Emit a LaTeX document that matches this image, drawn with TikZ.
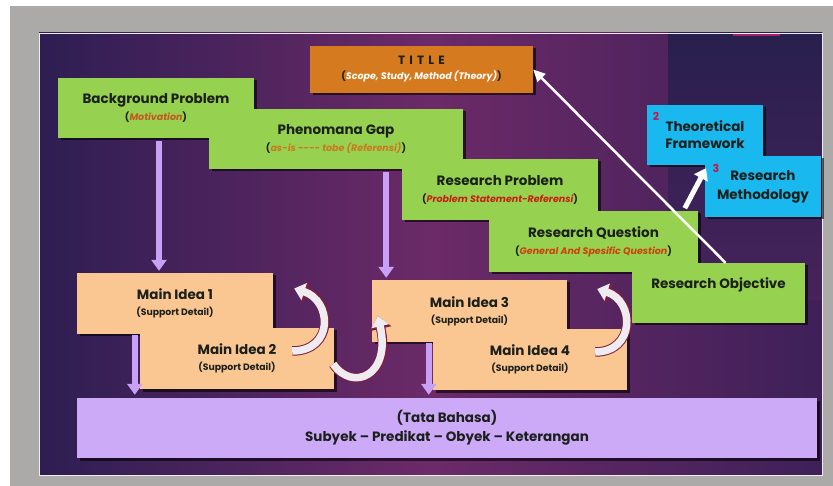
\documentclass[tikz,border=0pt]{standalone}
\usepackage{fontspec}
\setmainfont{Poppins}
\usetikzlibrary{arrows.meta,shadows,calc}
\definecolor{outergray}{RGB}{172,170,168}
\definecolor{bgleft}{RGB}{45,30,82}
\definecolor{bgmid}{RGB}{108,42,104}
\definecolor{bgright}{RGB}{62,32,88}
\definecolor{bgtopright}{RGB}{40,32,78}
\definecolor{boxgreen}{RGB}{150,210,80}
\definecolor{boxorange}{RGB}{214,122,32}
\definecolor{boxblue}{RGB}{25,185,240}
\definecolor{boxpeach}{RGB}{250,198,145}
\definecolor{boxlav}{RGB}{204,170,248}
\definecolor{arrowlav}{RGB}{200,160,245}
\definecolor{inktext}{RGB}{28,32,28}
\definecolor{motcol}{RGB}{200,85,30}
\definecolor{gapcol}{RGB}{205,120,30}
\definecolor{probcol}{RGB}{200,30,20}
\definecolor{quescol}{RGB}{205,65,15}
\definecolor{numcol}{RGB}{190,25,80}
\definecolor{curvefill}{RGB}{238,236,240}
\definecolor{curveedge}{RGB}{130,30,60}
\definecolor{topbar}{RGB}{165,35,95}
\newcommand\mymainf{\bfseries\fontsize{13.5}{17}\selectfont}
\newcommand\mysubf{\bfseries\fontsize{9.5}{12}\selectfont}
\newcommand\mysupf{\bfseries\fontsize{9.3}{11}\selectfont}
\newcommand\subtxt[2]{{\mysubf(\textcolor{#1}{\itshape #2})}}
\newcommand\curvedarrow[4]{%
  \draw[curveout] #1 .. controls #2 and #3 .. #4;
  \draw[curvein] #1 .. controls #2 and #3 .. #4;}
\begin{document}
\begin{tikzpicture}[x=1pt,y=-1pt,
  box/.style={inner sep=0pt, align=center, text=inktext, font=\mymainf,
    drop shadow={shadow xshift=2.5pt, shadow yshift=-2.5pt, opacity=0.6, fill=black}},
  gbox/.style={box, fill=boxgreen},
  pbox/.style={box, fill=boxpeach},
  bbox/.style={box, fill=boxblue},
  purplearrow/.style={draw=arrowlav, line width=6pt, -{Triangle[width=15pt,length=11pt]}},
  whitearrow/.style={draw=white, line width=2.5pt, -{Triangle[width=11pt,length=12pt]}},
  thickwhite/.style={draw=white, line width=5pt, -{Triangle[width=15pt,length=11pt]}},
  curveout/.style={draw=curveedge, line width=9.5pt, -{Triangle[width=21pt,length=13pt]}},
  curvein/.style={draw=curvefill, line width=7.5pt, -{Triangle[width=17.5pt,length=10.5pt]}},
  numlabel/.style={font=\bfseries\fontsize{11}{12}\selectfont, text=numcol, inner sep=0pt}
]
\useasboundingbox (0,0) rectangle (833,486);
% frame and slide background
\fill[white] (0,0) rectangle (833,486);
\fill[outergray] (10,6) rectangle (833,486);
\shade[left color=bgleft, right color=bgright, middle color=bgmid] (39,33) rectangle (822,475);
\shade[top color=bgtopright, bottom color=bgright!80!bgmid] (668,33) rectangle (822,300);
\fill[topbar] (733,33) rectangle (780,36);
\draw[white!85!gray, line width=0.8pt] (39,33) rectangle (822,475);

% green staircase
\node[gbox, minimum width=196pt, minimum height=60pt] (bg) at (156,108)
  {Background Problem\\\subtxt{motcol}{Motivation}};
\node[gbox, minimum width=254pt, minimum height=60pt] (pg) at (336,139)
  {Phenomana Gap\\\subtxt{gapcol}{as-is -{}-{}-{}- tobe (Referensi)}};
\node[gbox, minimum width=196pt, minimum height=61pt] (rp) at (500,189.5)
  {Research Problem\\\subtxt{probcol}{Problem Statement-Referensi}};
\node[gbox, minimum width=209pt, minimum height=61pt] (rq) at (593.5,241.5)
  {Research Question\\\subtxt{quescol}{General And Spesific Question}};
\node[gbox, minimum width=173pt, minimum height=60pt] (ro) at (718.5,293)
  {Research Objective\\{\mysubf\phantom{(X)}}};

% title
\node[box, fill=boxorange, minimum width=223pt, minimum height=47pt] (title) at (421.5,69.5)
  {{\fontsize{12}{16}\selectfont\addfontfeatures{LetterSpace=35}TITLE}\\[-2pt]{\mysubf(\textcolor{white}{\itshape Scope, Study, Method (Theory)})}};

% blue boxes
\node[bbox, minimum width=116pt, minimum height=60pt] (tf) at (705,135) {Theoretical\\Framework};
\node[bbox, minimum width=116pt, minimum height=61pt] (rm) at (763,186.5) {Research\\[2pt]Methodology};
\node[numlabel] (n2) at (656,116) {2};
\node[numlabel] (n3) at (716,168) {3};

% main ideas
\node[pbox, minimum width=196pt, minimum height=61pt] (mi1) at (175,303.5)
  {Main Idea 1\\[-1pt]{\mysupf(Support Detail)}};
\node[pbox, minimum width=194pt, minimum height=61pt] (mi2) at (237,358.5)
  {Main Idea 2\\[-1pt]{\mysupf(Support Detail)}};
\node[pbox, minimum width=195pt, minimum height=62pt] (mi3) at (469.5,311)
  {Main Idea 3\\[-1pt]{\mysupf(Support Detail)}};
\node[pbox, minimum width=194pt, minimum height=61pt] (mi4) at (530,359.5)
  {Main Idea 4\\[-1pt]{\mysupf(Support Detail)}};

% grammar box
\node[box, fill=boxlav, minimum width=740pt, minimum height=60pt] (tb) at (447,428)
  {(Tata Bahasa)\\[2pt]Subyek – Predikat – Obyek – Keterangan};

% lavender arrows
\coordinate (p1) at ($(bg.south)+(3,0)$);
\coordinate (p2) at ($(pg.south east)+(-77,0)$);
\coordinate (p3) at ($(mi1.south west)+(58,0)$);
\coordinate (p4) at ($(mi3.south west)+(57,0)$);
\draw[purplearrow, shorten <=3pt, shorten >=2pt] (p1) -- (p1 |- mi1.north);
\draw[purplearrow, shorten <=3pt, shorten >=2pt] (p2) -- (p2 |- mi3.north);
\draw[purplearrow, shorten <=1pt, shorten >=3pt] (p3) -- (p3 |- tb.north);
\draw[purplearrow, shorten <=1pt, shorten >=3pt] (p4) -- (p4 |- tb.north);

% curved arrows
\curvedarrow{($(mi2.east)+(-42,-7.5)$)}{+(42,0)}{+(38,12)}{($(mi1.east)+(21,-15)$)}
\curvedarrow{($(mi2.east)+(-1,5.5)$)}{+(19,28)}{+(14,60)}{($(mi3.west)+(6,5)$)}
\curvedarrow{($(mi4.east)+(-32,-7.5)$)}{+(40,0)}{+(38,12)}{($(mi3.east)+(30,-22)$)}

% white arrows
\draw[whitearrow] ([xshift=7pt]ro.north) -- (title.east);
\coordinate (rmtail) at ($(rm.south west)+(-20,-9)$);
\draw[thickwhite] (rmtail) -- ($(tf.south)+(1,3)$);
\end{tikzpicture}
\end{document}
